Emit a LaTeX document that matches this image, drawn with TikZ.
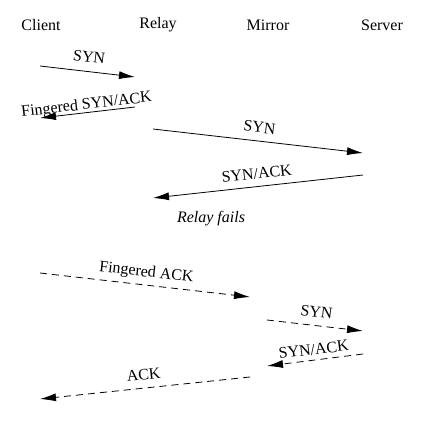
\documentclass[tikz,border=0pt]{standalone}
\usepackage{fontspec}
\setmainfont{Liberation Serif}
\usetikzlibrary{arrows.meta}

\begin{document}
\begin{tikzpicture}[x=1pt,y=1pt,>={Latex[length=16pt,width=8pt]},
  every node/.style={font=\fontsize{16}{19}\selectfont},
  msg/.style={->,line width=0.8pt},
  lost/.style={msg,dash pattern=on 7pt off 5pt},
  lbl/.style={sloped,above,inner xsep=0pt,inner ysep=8pt,text depth=0pt}]
\useasboundingbox (0,0) rectangle (426,-425);

\node (client) at (41,-25) {Client};
\node (relay) at (158,-25) {Relay};
\node (mirror) at (268,-25) {Mirror};
\node (server) at (382,-25) {Server};

% handshake through the relay
\coordinate (c1) at (40,-66);   \coordinate (r1) at (135,-77);
\coordinate (r2) at (135,-107); \coordinate (c2) at (40,-118);
\coordinate (r3) at (153,-129); \coordinate (s3) at (363,-153);
\coordinate (s4) at (363,-175); \coordinate (r4) at (153,-198);

\draw[msg] (c1) -- node[lbl,inner ysep=9pt] {SYN} (r1);
\draw[msg] (r2) -- node[lbl,inner ysep=3pt] {Fingered SYN/ACK} (c2);
\draw[msg] (r3) -- node[lbl] {SYN} (s3);
\draw[msg] (s4) -- node[lbl,inner ysep=7pt] {SYN/ACK} (r4);

\node (fail) at (211,-219) {\itshape Relay fails};

% recovery through the mirror
\coordinate (c5) at (40,-273);  \coordinate (m5) at (250,-297);
\coordinate (m6) at (267,-320); \coordinate (s6) at (363,-331);
\coordinate (s7) at (363,-354); \coordinate (m7) at (267,-366);
\coordinate (m8) at (250,-377); \coordinate (c8) at (40,-399);

\draw[lost] (c5) -- node[lbl] {Fingered ACK} (m5);
\draw[lost] (m6) -- node[lbl] {SYN} (s6);
\draw[lost] (s7) -- node[lbl,inner ysep=5pt] {SYN/ACK} (m7);
\draw[lost] (m8) -- node[lbl] {ACK} (c8);

\end{tikzpicture}
\end{document}
